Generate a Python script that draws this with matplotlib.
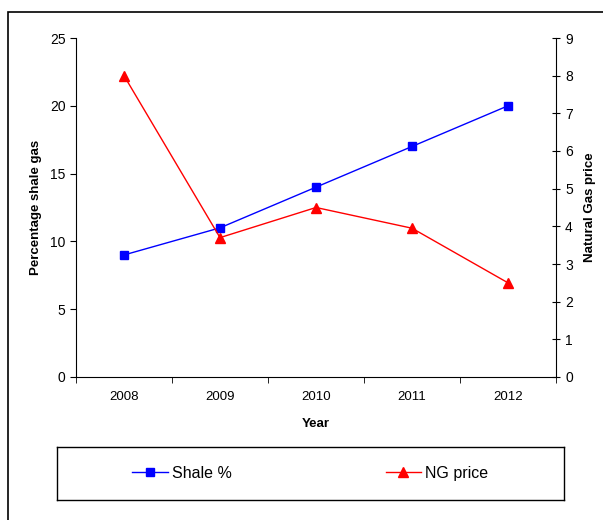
import matplotlib
matplotlib.use("Agg")
import matplotlib.pyplot as plt
from matplotlib.patches import Rectangle

plt.rcParams["font.family"] = ["Liberation Sans", "DejaVu Sans"]

# shale share vs. natural gas price, 2008-2012
YEARS = ["2008", "2009", "2010", "2011", "2012"]
SHALE_PCT = [9, 11, 14, 17, 20]
NG_PRICE = [8.0, 3.7, 4.5, 3.95, 2.5]

W, H = 603, 520
fig = plt.figure(figsize=(W / 100, H / 100), dpi=100)

# outer chart frame (runs off the right/bottom edge)
fig.patches.append(Rectangle((8 / W, -0.1), 1.2, 1 - 12 / H + 0.1,
                             transform=fig.transFigure, fill=False,
                             lw=1.2, ec="black"))

ax = fig.add_axes([76 / W, 1 - 377 / H, (556 - 76) / W, (377 - 38) / H])
x = list(range(len(YEARS)))
ax.plot(x, SHALE_PCT, color="blue", lw=1.0, marker="s", ms=5.5,
        label="Shale %", zorder=3)
ax.set_xlim(-0.5, len(YEARS) - 0.5)
ax.set_ylim(0, 25)
ax.set_yticks(range(0, 26, 5))
ax.set_xticks(x)
ax.set_xticklabels(YEARS)
ax.set_xticks([i - 0.5 for i in range(len(YEARS) + 1)], minor=True)
ax.tick_params(axis="x", which="major", length=0, pad=10, labelsize=9.5)
ax.tick_params(axis="x", which="minor", length=4, direction="out")
ax.tick_params(axis="y", length=4, direction="out", labelsize=10)
ax.spines["top"].set_visible(False)
ax.spines["right"].set_visible(False)
ax.set_xlabel("Year", fontweight="bold", fontsize=9.5, labelpad=11)
ax.set_ylabel("Percentage shale gas", fontweight="bold", fontsize=9.5,
              labelpad=6)
ax.patch.set_alpha(0)

ax2 = ax.twinx()
ax2.plot(x, NG_PRICE, color="red", lw=1.0, marker="^", ms=6.5,
         label="NG price", zorder=3)
ax2.set_ylim(0, 9)
ax2.set_yticks(range(0, 10))
ax2.tick_params(axis="y", length=6, direction="inout", labelsize=10)
ax2.spines["top"].set_visible(False)
ax2.spines["left"].set_visible(False)
ax2.spines["bottom"].set_visible(False)
ax2.set_ylabel("Natural Gas price", fontweight="bold", fontsize=9.5,
               labelpad=8)

# legend in its own framed box under the plot
lax = fig.add_axes([57 / W, 1 - 500 / H, (564 - 57) / W, (500 - 447) / H])
lax.set_xticks([])
lax.set_yticks([])
for s in lax.spines.values():
    s.set_linewidth(1.0)
h1, l1 = ax.get_legend_handles_labels()
h2, l2 = ax2.get_legend_handles_labels()
lax.legend(h1 + h2, l1 + l2, loc="center", ncol=2, frameon=False,
           fontsize=11.5, columnspacing=9.6, handlelength=2.2,
           handletextpad=0.3)

fig.savefig("out.png", dpi=100)
